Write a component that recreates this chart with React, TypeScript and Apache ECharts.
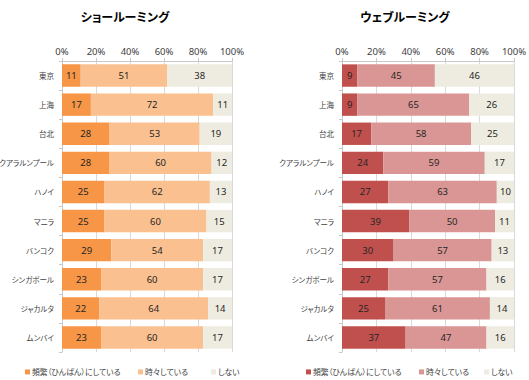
import React, { useEffect, useRef } from "react";
import * as echarts from "echarts";

const categories = ["東京", "上海", "台北", "クアラルンプール", "ハノイ", "マニラ", "バンコク", "シンガポール", "ジャカルタ", "ムンバイ"];
const seriesNames = ["頻繁（ひんぱん）にしている", "時々している", "しない"];

const showFrequent = [11, 17, 28, 28, 25, 25, 29, 23, 22, 23];
const showSometimes = [51, 72, 53, 60, 62, 60, 54, 60, 64, 60];
const showNever = [38, 11, 19, 12, 13, 15, 17, 17, 14, 17];

const webFrequent = [9, 9, 17, 24, 27, 39, 30, 27, 25, 37];
const webSometimes = [45, 65, 58, 59, 63, 50, 57, 57, 61, 47];
const webNever = [46, 26, 25, 17, 10, 11, 13, 16, 14, 16];

const xTicks = { min: 0, max: 100, interval: 20 };

const titles = ["ショールーミング", "ウェブルーミング"];
const showColors = ["#F79646", "#FAC090", "#EEECE1"];
const webColors = ["#C0504D", "#DA9694", "#EEECE1"];

const CJK = '"Noto Sans CJK JP", "Noto Sans", sans-serif';

export default function App() {
  const ref = useRef<HTMLDivElement>(null);
  useEffect(() => {
    if (!ref.current) return;
    const chart = echarts.init(ref.current, undefined, { renderer: "svg" });
    const grids = [
      { left: 62, top: 61, width: 170, height: 291, outerBoundsMode: "none", containLabel: false },
      { left: 342, top: 61, width: 172, height: 291, outerBoundsMode: "none", containLabel: false },
    ];
    const xAxis = grids.map((_, i) => ({
      type: "value" as const,
      gridIndex: i,
      position: "top" as const,
      min: xTicks.min,
      max: xTicks.max,
      interval: xTicks.interval,
      axisLabel: { formatter: "{value}%", fontSize: 9.5, color: "#404040", margin: 5, fontFamily: '"Noto Sans", sans-serif' },
      axisLine: { show: true, lineStyle: { color: "#c8c8c8" } },
      axisTick: { show: true, length: 3, lineStyle: { color: "#c8c8c8" } },
      splitLine: { show: true, lineStyle: { color: "#d9d9d9" } },
    }));
    const yAxis = grids.map((_, i) => ({
      type: "category" as const,
      gridIndex: i,
      inverse: true,
      data: categories,
      axisLabel: { fontSize: 7.5, color: "#404040", margin: 8, fontFamily: CJK },
      axisLine: { show: true, lineStyle: { color: "#c8c8c8" } },
      axisTick: { show: true, length: 3, lineStyle: { color: "#c8c8c8" } },
    }));
    const sets = [
      { data: [showFrequent, showSometimes, showNever], colors: showColors },
      { data: [webFrequent, webSometimes, webNever], colors: webColors },
    ];
    const series: any[] = [];
    sets.forEach((s, gi) => {
      s.data.forEach((d, si) => {
        series.push({
          type: "bar",
          name: seriesNames[si],
          xAxisIndex: gi,
          yAxisIndex: gi,
          stack: "s" + gi,
          data: d,
          barCategoryGap: "23%",
          itemStyle: { color: s.colors[si] },
          label: { show: true, position: "inside", fontSize: 9.5, color: "#262626", fontFamily: '"Noto Sans", sans-serif' },
        });
      });
    });
    const legendLefts = [
      [20, 133, 206],
      [301, 414, 479],
    ];
    const legend: any[] = [];
    sets.forEach((s, gi) => {
      seriesNames.forEach((n, si) => {
        legend.push({
          left: legendLefts[gi][si],
          top: 363,
          itemWidth: 5,
          itemHeight: 5,
          icon: "rect",
          selectedMode: false,
          textStyle: { fontSize: 7.8, color: "#404040", fontFamily: CJK, padding: [0, 0, 0, -3] },
          data: [{ name: n, itemStyle: { color: s.colors[si] } }],
        });
      });
    });
    chart.setOption({
      animation: false,
      title: [
        { text: titles[0], left: 120, top: 5, textAlign: "center", textStyle: { fontSize: 12, fontWeight: "bold", color: "#000", fontFamily: CJK } },
        { text: titles[1], left: 400, top: 5, textAlign: "center", textStyle: { fontSize: 12, fontWeight: "bold", color: "#000", fontFamily: CJK } },
      ],
      grid: grids,
      xAxis,
      yAxis,
      legend,
      series,
    });
    return () => chart.dispose();
  }, []);
  return (
    <>
      <style>{`#root svg text { font-feature-settings: "palt" 1; }`}</style>
      <div ref={ref} style={{ position: "absolute", left: 0, top: 0, width: 529, height: 380, background: "#fff" }} />
    </>
  );
}
